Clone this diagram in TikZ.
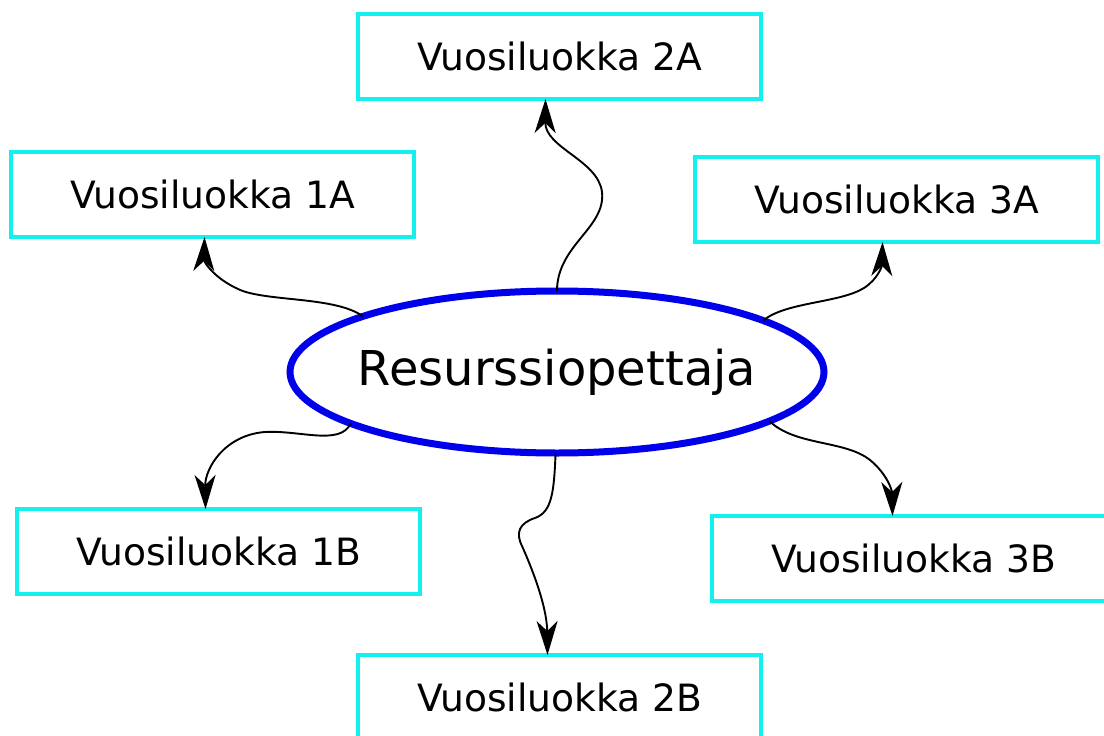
\documentclass[tikz,border=0pt]{standalone}
\usepackage{fontspec}
\setmainfont{DejaVu Sans}
\usetikzlibrary{shapes.geometric,arrows.meta,calc}
\definecolor{boxcyan}{RGB}{20,240,240}
\definecolor{ellblue}{RGB}{0,0,235}
\tikzset{
  klass/.style={draw=boxcyan, line width=3.5pt, rectangle, minimum width=403pt, minimum height=85pt, inner sep=0pt, outer sep=0pt, font=\fontsize{37.6}{45}\selectfont},
  center/.style={draw=ellblue, line width=7pt, ellipse, minimum width=534pt, minimum height=162pt, inner sep=0pt, outer sep=0pt, font=\fontsize{48}{58}\selectfont},
  link/.style={line width=1.9pt, -{Stealth[length=34pt, width=21pt, inset=10pt]}}
}
\begin{document}
\begin{tikzpicture}[x=1pt, y=-1pt]
\useasboundingbox (0,0) rectangle (1104,736);
\node[center] (ell) at (557,372) {\makebox[0pt]{Resurssiopettaja}};
\node[klass] (b2a) at (559.5,56.5) {Vuosiluokka 2A};
\node[klass] (b1a) at (212.5,194.5) {Vuosiluokka 1A};
\node[klass] (b3a) at (896.5,199.5) {Vuosiluokka 3A};
\node[klass] (b1b) at (218.5,551.5) {Vuosiluokka 1B};
\node[klass] (b3b) at (913.5,558.5) {Vuosiluokka 3B};
\node[klass] (b2b) at (559.5,697.5) {Vuosiluokka 2B};
% to 2A
\draw[link] (ell.90) .. controls (557,245) and (606,228) .. (602,192)
  .. controls (598,160) and (545,148) .. ($(b2a.south)+(-14,0)$);
% to 1A
\draw[link] (ell.164.5) .. controls (335,296) and (265,302) .. (238,289)
  .. controls (214,278) and (204,262) .. ($(b1a.south)+(-8,0)$);
% to 3A
\draw[link] (ell.14) .. controls (785,302) and (840,303) .. (864,288)
  .. controls (878,279) and (882,266) .. ($(b3a.south)+(-14,0)$);
% to 1B
\draw[link] (ell.194.4) .. controls (340,446) and (300,430) .. (265,432)
  .. controls (225,435) and (205,468) .. ($(b1b.north)+(-13,0)$);
% to 2B
\draw[link] (ell.269) .. controls (554,492) and (552,512) .. (535,518)
  .. controls (520,523) and (515,532) .. (522,546)
  .. controls (538,582) and (547,612) .. ($(b2b.north)+(-12,0)$);
% to 3B
\draw[link] (ell.347.6) .. controls (795,446) and (845,440) .. (870,460)
  .. controls (887,474) and (892,490) .. ($(b3b.north)+(-21,0)$);
\end{tikzpicture}
\end{document}
